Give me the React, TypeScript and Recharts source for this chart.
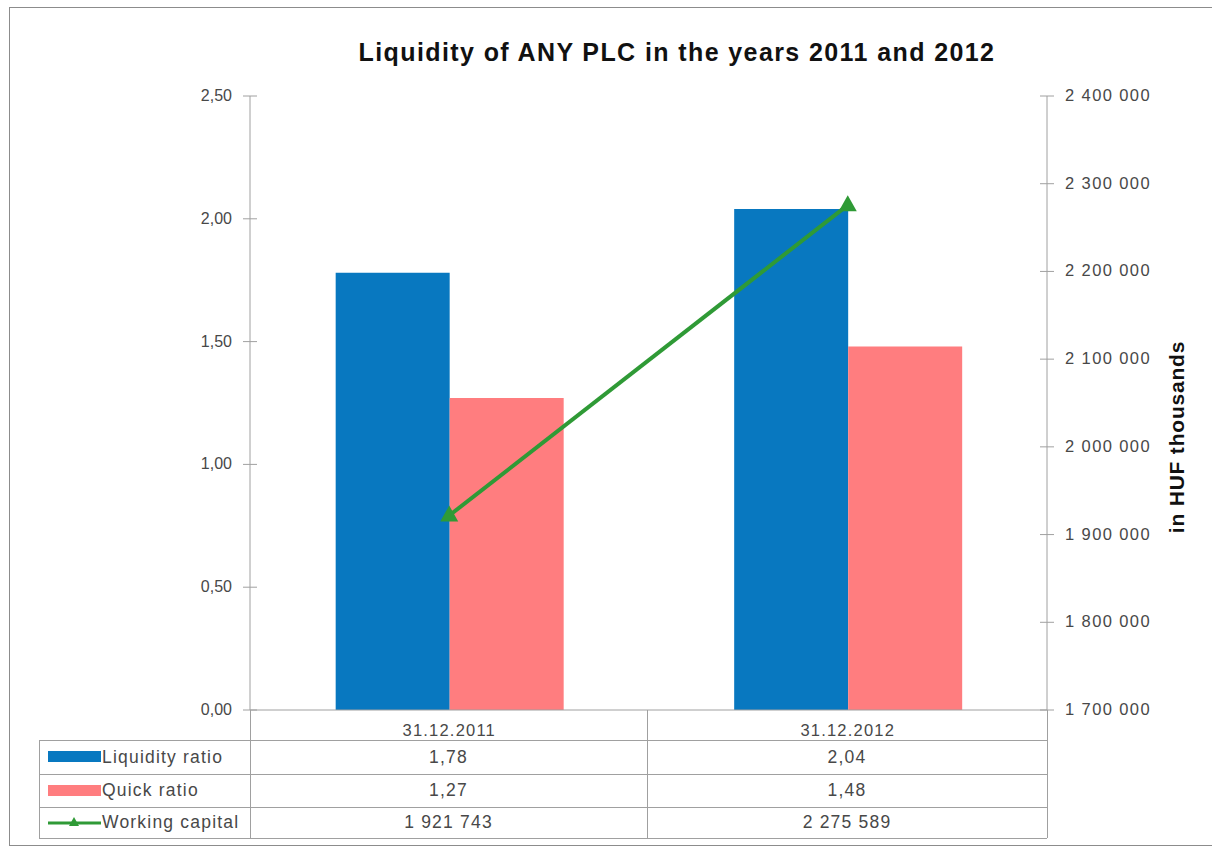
import { ComposedChart, Bar, Line, XAxis, YAxis } from "recharts";

const categories = ["31.12.2011", "31.12.2012"];
const liquidityRatio = [1.78, 2.04];
const quickRatio = [1.27, 1.48];
const workingCapital = [1921743, 2275589];
const ratioTicks = [0, 0.5, 1, 1.5, 2, 2.5];
const capitalTicks = [1700000, 1800000, 1900000, 2000000, 2100000, 2200000, 2300000, 2400000];

const BLUE = "#0878c0";
const PINK = "#ff7d7f";
const GREEN = "#2f9a36";
const GRID = "#a0a0a0";
const TEXT = "#484848";
const FONT = "'Liberation Sans', Arial, sans-serif";

const data = categories.map((c, i) => ({
  category: c,
  liquidity: liquidityRatio[i],
  quick: quickRatio[i],
  capital: workingCapital[i],
}));

const fmtRatio = (v: number) => v.toFixed(2).replace(".", ",");
const fmtCapital = (v: number) => String(Math.round(v)).replace(/\B(?=(\d{3})+(?!\d))/g, " ");

// tick marks cross the axis line, like in the original spreadsheet
const LeftTick = (props: any) => {
  const { x, y, payload } = props;
  return (
    <g>
      <line x1={x + 11} x2={x + 25} y1={y} y2={y} stroke={GRID} />
      <text x={x} y={y} dy={5} textAnchor="end" fontSize={16} fill={TEXT} fontFamily={FONT}>
        {fmtRatio(payload.value)}
      </text>
    </g>
  );
};

const RightTick = (props: any) => {
  const { x, y, payload } = props;
  return (
    <g>
      <line x1={x - 25} x2={x - 11} y1={y} y2={y} stroke={GRID} />
      <text x={x} y={y} dy={5} textAnchor="start" fontSize={16.5} fill={TEXT} fontFamily={FONT} letterSpacing={1.4}>
        {fmtCapital(payload.value)}
      </text>
    </g>
  );
};

const TriangleDot = (props: any) => {
  const { cx, cy } = props;
  if (cx == null || cy == null) return null;
  return <polygon points={`${cx},${cy - 10} ${cx + 9},${cy + 6} ${cx - 9},${cy + 6}`} fill={GREEN} />;
};

const tableRows = [
  { label: "Liquidity ratio", values: liquidityRatio.map(fmtRatio), key: "bar", color: BLUE },
  { label: "Quick ratio", values: quickRatio.map(fmtRatio), key: "bar", color: PINK },
  { label: "Working capital", values: workingCapital.map(fmtCapital), key: "line", color: GREEN },
];

const COL_X = [39, 250, 647, 1047];
const ROW_Y = [710, 740, 774, 807, 838];

export default function App() {
  return (
    <div style={{ position: "absolute", left: 0, top: 0, width: 1212, height: 848, background: "#fff", fontFamily: FONT, overflow: "hidden" }}>
      <div style={{ position: "absolute", left: 9, top: 7, width: 1220, height: 837, border: "1px solid #8c8c8c" }} />
      <div style={{ position: "absolute", left: 0, width: 1354, top: 38, textAlign: "center", fontSize: 25, fontWeight: "bold", color: "#111", letterSpacing: 1.4 }}>
        Liquidity of ANY PLC in the years 2011 and 2012
      </div>
      <div style={{ position: "absolute", left: 1177, top: 437, width: 0, height: 0 }}>
        <div style={{ position: "absolute", transform: "translate(-50%, -50%) rotate(-90deg)", whiteSpace: "nowrap", fontSize: 21, fontWeight: "bold", color: "#111", letterSpacing: 0.8 }}>
          in HUF thousands
        </div>
      </div>
      <div style={{ position: "absolute", left: 0, top: 0 }}>
        <ComposedChart
          width={1212}
          height={848}
          data={data}
          margin={{ top: 96, right: 0, bottom: 108, left: 0 }}
          barGap={0}
          barCategoryGap="21.5%"
        >
          <XAxis
            dataKey="category"
            height={30}
            tickLine={false}
            axisLine={{ stroke: GRID }}
            tickMargin={8}
            tick={{ fontSize: 16.5, fill: TEXT, fontFamily: FONT, letterSpacing: 1.2 }}
          />
          <YAxis
            yAxisId="left"
            orientation="left"
            width={250}
            domain={[0, 2.5]}
            ticks={ratioTicks}
            tickLine={false}
            tickSize={7}
            tickMargin={11}
            axisLine={{ stroke: GRID }}
            tick={<LeftTick />}
            interval={0}
          />
          <YAxis
            yAxisId="right"
            orientation="right"
            width={165}
            domain={[1700000, 2400000]}
            ticks={capitalTicks}
            tickLine={false}
            tickSize={7}
            tickMargin={11}
            axisLine={{ stroke: GRID }}
            tick={<RightTick />}
            interval={0}
          />
          <Bar yAxisId="left" dataKey="liquidity" fill={BLUE} isAnimationActive={false} />
          <Bar yAxisId="left" dataKey="quick" fill={PINK} isAnimationActive={false} />
          <Line
            yAxisId="right"
            dataKey="capital"
            stroke={GREEN}
            strokeWidth={4}
            dot={<TriangleDot />}
            activeDot={false}
            isAnimationActive={false}
          />
        </ComposedChart>
      </div>
      {/* data table under the plot */}
      {ROW_Y.slice(1).map((y) => (
        <div key={y} style={{ position: "absolute", left: COL_X[0], top: y, width: COL_X[3] - COL_X[0], height: 1, background: GRID }} />
      ))}
      <div style={{ position: "absolute", left: COL_X[0], top: ROW_Y[1], width: 1, height: ROW_Y[4] - ROW_Y[1], background: GRID }} />
      {COL_X.slice(1).map((x) => (
        <div key={x} style={{ position: "absolute", left: x, top: ROW_Y[0], width: 1, height: ROW_Y[4] - ROW_Y[0], background: GRID }} />
      ))}
      {tableRows.map((row, r) => (
        <div key={row.label}>
          <div style={{ position: "absolute", left: 48, top: ROW_Y[r + 1], height: ROW_Y[r + 2] - ROW_Y[r + 1], display: "flex", alignItems: "center", fontSize: 17.5, color: TEXT, letterSpacing: 1.2, whiteSpace: "nowrap" }}>
            <svg width={53} height={14} style={{ marginRight: 1 }}>
              {row.key === "bar" ? (
                <rect x={0} y={1} width={53} height={11} fill={row.color} />
              ) : (
                <g>
                  <line x1={0} x2={53} y1={7} y2={7} stroke={row.color} strokeWidth={3} />
                  <polygon points="26,1 31,10 21,10" fill={row.color} />
                </g>
              )}
            </svg>
            <span>{row.label}</span>
          </div>
          {row.values.map((v, c) => (
            <div key={c} style={{ position: "absolute", left: COL_X[c + 1], width: COL_X[c + 2] - COL_X[c + 1], top: ROW_Y[r + 1], height: ROW_Y[r + 2] - ROW_Y[r + 1], display: "flex", alignItems: "center", justifyContent: "center", fontSize: 17.5, color: TEXT, letterSpacing: 1.2 }}>
              {v}
            </div>
          ))}
        </div>
      ))}
    </div>
  );
}
